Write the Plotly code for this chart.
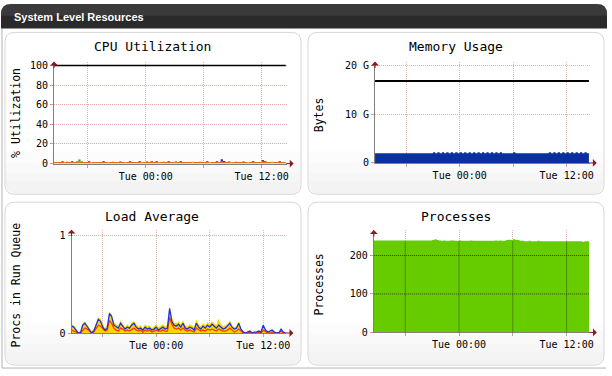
import pandas as pd
import plotly.graph_objects as go

W, H = 612, 376

# ---------------- data ----------------
times = pd.date_range("2012-01-02 14:30", "2012-01-03 14:30", freq="15min")  # 97 samples
x_range = ["2012-01-02 14:30", "2012-01-03 14:36"]
x_tickvals = ["2012-01-02 18:00", "2012-01-03 00:00", "2012-01-03 06:00", "2012-01-03 12:00"]
x_ticktext = ["", "Tue 00:00", "", "Tue 12:00"]

# CPU utilization (%)
cpu_wio = [1.6,1.7,1.6,1.6,1.5,1.6,1.7,1.6,1.6,1.6,
           1.8,1.7,1.6,1.6,1.6,1.5,1.6,1.6,1.7,1.6,
           1.6,1.6,1.5,1.6,1.6,1.7,1.6,1.6,1.6,1.5,
           1.6,1.6,1.7,1.6,1.6,1.6,1.5,1.6,1.6,1.7,
           1.6,1.6,1.6,1.5,1.6,1.6,1.7,1.6,1.6,1.6,
           1.5,1.6,1.6,1.7,1.6,1.6,1.6,1.5,1.6,1.6,
           1.7,1.6,1.6,1.6,1.5,1.6,1.6,1.7,1.6,1.8,
           1.7,1.6,1.6,1.5,1.6,1.6,1.7,1.6,1.6,1.6,
           1.5,1.6,1.6,1.7,1.6,1.6,1.8,1.7,1.6,1.6,
           1.5,1.6,1.6,1.7,1.6,1.6,1.6]
cpu_system = [0,0,0,0,0,0,0,0,0,0,
              0,0,0,0,0.7,0,0,0,0,0,
              0,0,0,0,0,0,0,0,0,0,
              0,0,0,0,0,0,0,0,0,0,
              0.7,0,0,0,0,0,0,0,0,0,
              0,0,0,0,0,0,0,0,0,0,
              0,0,0,0,0,0,0,0,0,0,
              0,0,0,0,0,0,0,0,0,0,
              0,0,0,0,0,0,1.8,0.6,0,0,
              0,0,0,0,0,0,0]
cpu_user = [0,0,0,0.8,0,0,0,0.8,0,0,
            0,0,0,0,0,0,0,0,0,0,
            0.8,0,0,0,0,0,0,0,0,0,
            0,0.8,0,0,0,0.8,0,0,0,0,
            0,0,0.8,0,0,0,0,0.8,0,0,
            0,0,0.8,0,0,0,0,0,0,0,
            0,0,0,0.8,0,0,0,0.8,0,2.6,
            0.9,0,0,0,0,0,0,0,0,0,
            0,0,0.8,0,0,0,0,0,0,0,
            0,0,0,0.8,0,0,0]
cpu_nice = [0,0,0,0,0,0.8,0,0,0,0,
            0,0,0,0,0,0,0,0,0,0,
            0,0,0,0,0.8,0,0,0,0,0,
            0,0,0,0,0,0,0,0,0,0,
            0,0,0,0,0,0.8,0,0,0,0,
            0,0,0,0,0,0,0,0.8,0,0,
            0.8,0,0,0,0,0,0,0,0,0,
            0,0,0,0,0,0.8,0,0,0,0,
            0,0,0,0,0,0,0,0,0,0,
            0.8,0,0,0,0,0,0]
cpu_steal = [0,0,0,0,0,0,0,0,0,0.8,
             2.4,0.8,0,0,0,0,0,0,0,0,
             0,0,0,0,0,0,0,0.8,0,0,
             0,0,0,0,0,0,0,0,0.8,0,
             0,0,0,0,0,0,0,0,0,0,
             0.8,0,0,0,0,0,0,0,0,0,
             0,0,0,0,0,0,0,0,0,0,
             0,0,0.8,0,0,0,0,0,0.8,0,
             0,0,0,0,0,0,0,0,0,0,
             0,0,0,0,0,0,0]
cpu_total = [100, 100]
cpu_yticks = [0, 20, 40, 60, 80, 100]

# Memory (GB)
mem_used_gb = [2.0,2.0,2.0,2.0,2.0,2.0,2.0,2.0,2.0,2.0,
               2.0,2.0,2.0,2.0,2.0,2.0,2.0,2.0,2.0,2.0,
               2.0,2.0,2.0,2.0,2.0,2.0,2.2,2.0,2.2,2.0,
               2.2,2.0,2.2,2.0,2.2,2.0,2.2,2.0,2.2,2.0,
               2.2,2.0,2.2,2.0,2.2,2.0,2.2,2.0,2.2,2.0,
               2.2,2.0,2.2,2.0,2.2,2.0,2.2,2.0,2.0,2.0,
               2.0,2.0,2.2,2.0,2.0,2.0,2.0,2.0,2.0,2.0,
               2.0,2.0,2.0,2.0,2.0,2.0,2.0,2.0,2.2,2.0,
               2.2,2.0,2.2,2.0,2.2,2.0,2.2,2.0,2.2,2.0,
               2.2,2.0,2.2,2.0,2.2,2.0,2.0]
mem_total_gb = [16.8, 16.8]
mem_yticks = [0, 10, 20]
mem_ytext = ["0", "10 G", "20 G"]

# Load average
load_one = [0.09,0.08,0.05,0.01,0.02,0.10,0.12,0.09,0.05,0.02,
            0.04,0.10,0.16,0.15,0.09,0.05,0.08,0.22,0.19,0.11,
            0.09,0.07,0.13,0.10,0.06,0.09,0.07,0.11,0.12,0.09,
            0.07,0.08,0.05,0.09,0.07,0.08,0.05,0.07,0.09,0.06,
            0.08,0.09,0.07,0.08,0.29,0.16,0.11,0.10,0.12,0.09,
            0.13,0.08,0.07,0.09,0.08,0.06,0.14,0.09,0.07,0.10,
            0.08,0.11,0.09,0.12,0.10,0.08,0.15,0.09,0.07,0.08,
            0.09,0.13,0.08,0.06,0.07,0.12,0.05,0.02,0.01,0.01,
            0.02,0.01,0.01,0.01,0.02,0.01,0.07,0.03,0.01,0.01,
            0.02,0.01,0.00,0.00,0.05,0.01,0.00]
load_cpus = [0.03,0.02,0.01,0.00,0.00,0.03,0.05,0.04,0.02,0.00,
             0.01,0.04,0.08,0.07,0.04,0.02,0.03,0.13,0.10,0.05,
             0.03,0.02,0.05,0.04,0.02,0.03,0.02,0.04,0.05,0.03,
             0.02,0.03,0.01,0.03,0.02,0.03,0.01,0.02,0.03,0.02,
             0.02,0.03,0.02,0.02,0.16,0.09,0.05,0.04,0.05,0.03,
             0.05,0.03,0.02,0.03,0.02,0.01,0.05,0.03,0.02,0.03,
             0.02,0.04,0.03,0.04,0.03,0.02,0.04,0.03,0.02,0.02,
             0.03,0.05,0.03,0.01,0.02,0.04,0.02,0.00,0.00,0.00,
             0.01,0.00,0.00,0.00,0.01,0.00,0.03,0.01,0.00,0.00,
             0.01,0.00,0.00,0.00,0.02,0.00,0.00]
load_running = [0.07,0.06,0.03,0.00,0.00,0.08,0.10,0.07,0.03,0.00,
                0.02,0.08,0.14,0.12,0.06,0.03,0.05,0.20,0.17,0.08,
                0.06,0.05,0.10,0.07,0.04,0.06,0.05,0.08,0.10,0.06,
                0.04,0.05,0.03,0.06,0.04,0.05,0.03,0.04,0.06,0.03,
                0.05,0.06,0.04,0.05,0.25,0.12,0.08,0.07,0.09,0.06,
                0.10,0.05,0.04,0.06,0.05,0.03,0.10,0.06,0.04,0.07,
                0.05,0.08,0.06,0.09,0.07,0.05,0.08,0.06,0.04,0.05,
                0.07,0.10,0.06,0.04,0.05,0.10,0.04,0.01,0.00,0.01,
                0.02,0.00,0.01,0.01,0.02,0.01,0.08,0.03,0.01,0.02,
                0.03,0.01,0.00,0.00,0.04,0.01,0.00]
load_yticks = [0, 1]

# Processes
proc_total = [239,239,239,239,239,239,239,239,239,239,
              239,239,239,239,239,239,239,239,239,239,
              239,239,239,239,239,239,240,242,240,239,
              238,239,238,238,239,239,238,238,239,238,
              238,238,238,239,238,238,238,238,238,238,
              238,238,238,238,239,238,239,238,238,240,
              241,240,242,241,240,238,238,237,237,238,
              237,237,237,238,237,237,237,237,237,237,
              237,237,237,237,237,237,237,237,237,237,
              237,237,237,236,237,237,237]
proc_yticks = [0, 100, 200]

titles = ["CPU Utilization", "Memory Usage", "Load Average", "Processes"]
ytitles = ["% Utilization", "Bytes", "Procs in Run Queue", "Processes"]
header_text = "System Level Resources"

# ---------------- layout helpers ----------------
MONO = "DejaVu Sans Mono"
GRID = "#eab0b0"
AXIS = "#808080"
ARROW = "#8b1a1a"


def px(x):
    return x / W


def py(y):
    return 1 - y / H


def rrect(x0, y0, x1, y1, rt, rb):
    return (f"M {px(x0+rt)},{py(y0)} L {px(x1-rt)},{py(y0)} "
            f"Q {px(x1)},{py(y0)} {px(x1)},{py(y0+rt)} "
            f"L {px(x1)},{py(y1-rb)} Q {px(x1)},{py(y1)} {px(x1-rb)},{py(y1)} "
            f"L {px(x0+rb)},{py(y1)} Q {px(x0)},{py(y1)} {px(x0)},{py(y1-rb)} "
            f"L {px(x0)},{py(y0+rt)} Q {px(x0)},{py(y0)} {px(x0+rt)},{py(y0)} Z")


# pixel boxes of the four plot areas: (left, top, right, bottom)
boxes = [(54.4, 61.7, 288.6, 165.7),
         (377.5, 61.7, 593.7, 165.0),
         (72.0, 233.0, 288.3, 338.3),
         (376.3, 233.4, 593.8, 337.7)]
yranges = [[0, 104], [0, 20.81], [0, 1.0604], [0, 266.1]]
panels = [(5, 32, 303, 197), (310, 32, 608, 197), (5, 205, 303, 371), (310, 205, 608, 371)]
title_pos = [(153.5, 46), (459, 46), (153.5, 220), (458.7, 219.5)]
ytitle_pos = [(16, 114.2), (321, 115.5), (16, 289), (321, 289)]

fig = go.Figure()

# ---- CPU ----
for vals, col in [(cpu_wio, "#e0701c"), (cpu_system, "#a02a1a"), (cpu_user, "#3333bb"),
                  (cpu_nice, "#f2d600"), (cpu_steal, "#55aa22")]:
    fig.add_trace(go.Scatter(x=times, y=vals, stackgroup="cpu", mode="lines",
                             line=dict(width=0, shape="hv"), fillcolor=col,
                             xaxis="x", yaxis="y", hoverinfo="skip"))
fig.add_trace(go.Scatter(x=[times[0], times[-1]], y=cpu_total, mode="lines",
                         line=dict(color="black", width=1.3), xaxis="x", yaxis="y"))

# ---- Memory ----
fig.add_trace(go.Scatter(x=times, y=mem_used_gb, mode="lines", fill="tozeroy",
                         line=dict(width=0, shape="hv"), fillcolor="#0a2f9e",
                         xaxis="x2", yaxis="y2"))
fig.add_trace(go.Scatter(x=[times[0], times[-1]], y=mem_total_gb, mode="lines",
                         line=dict(color="black", width=2), xaxis="x2", yaxis="y2"))

# ---- Load ----
fig.add_trace(go.Scatter(x=times, y=load_one, mode="lines", fill="tozeroy",
                         line=dict(width=0), fillcolor="#f5d800", xaxis="x3", yaxis="y3"))
fig.add_trace(go.Scatter(x=times, y=load_cpus, mode="lines",
                         line=dict(color="#ff3d00", width=1.3), xaxis="x3", yaxis="y3"))
fig.add_trace(go.Scatter(x=times, y=load_running, mode="lines",
                         line=dict(color="#1f2fe6", width=1.3), xaxis="x3", yaxis="y3"))

# ---- Processes ----
fig.add_trace(go.Scatter(x=times, y=proc_total, mode="lines", fill="tozeroy",
                         line=dict(width=0, shape="hv"), fillcolor="#66cc00",
                         xaxis="x4", yaxis="y4"))

shapes = []
annotations = []

# page chrome
shapes.append(dict(type="line", xref="paper", yref="paper", x0=px(2), x1=px(2), y0=py(28), y1=py(374),
                   line=dict(color="#b4b4b4", width=1), layer="below"))
shapes.append(dict(type="line", xref="paper", yref="paper", x0=px(2), x1=px(610), y0=py(374), y1=py(374),
                   line=dict(color="#b4b4b4", width=1), layer="below"))
shapes.append(dict(type="path", xref="paper", yref="paper", path=rrect(1, 3, 611, 28, 10, 0),
                   fillcolor="#2a2a2a", line=dict(width=0), layer="below"))
shapes.append(dict(type="path", xref="paper", yref="paper", path=rrect(1, 3, 611, 15, 10, 0),
                   fillcolor="rgba(255,255,255,0.08)", line=dict(width=0), layer="below"))
annotations.append(dict(xref="paper", yref="paper", x=px(12), y=py(16.5), xanchor="left", yanchor="middle",
                        text=f"<b>{header_text}</b>", showarrow=False,
                        font=dict(family="Liberation Sans", size=11, color="white")))

for (x0, y0, x1, y1) in panels:
    shapes.append(dict(type="path", xref="paper", yref="paper", path=rrect(x0, y0, x1, y1, 10, 10),
                       fillcolor="white", line=dict(color="#d6d6d6", width=1), layer="below"))
    for h in (44, 32, 22, 13):
        shapes.append(dict(type="path", xref="paper", yref="paper", path=rrect(x0 + 0.5, y1 - h, x1 - 0.5, y1 - 0.5, 0, 10),
                           fillcolor="rgba(0,0,0,0.013)", line=dict(width=0), layer="below"))

layout_axes = {}
ytickvals = [cpu_yticks, mem_yticks, load_yticks, proc_yticks]
yticktext = [[str(v) for v in cpu_yticks], mem_ytext, [str(v) for v in load_yticks],
             [str(v) for v in proc_yticks]]

for i, (l, t, r, b) in enumerate(boxes):
    s = "" if i == 0 else str(i + 1)
    layout_axes[f"xaxis{s}"] = dict(
        domain=[px(l), px(r)], anchor=f"y{s}", type="date", range=x_range,
        tickmode="array", tickvals=x_tickvals, ticktext=x_ticktext,
        ticks="outside", ticklen=3, tickcolor="#c99", showgrid=True, gridcolor=GRID,
        griddash="1px,1px", gridwidth=1, showline=True, linecolor=AXIS, linewidth=1,
        zeroline=False, tickfont=dict(family=MONO, size=10, color="black"), fixedrange=True)
    layout_axes[f"yaxis{s}"] = dict(
        domain=[py(b), py(t)], anchor=f"x{s}", range=yranges[i],
        tickmode="array", tickvals=ytickvals[i], ticktext=yticktext[i],
        ticks="outside", ticklen=3, tickcolor="#c99", showgrid=True, gridcolor=GRID,
        griddash="1px,1px", gridwidth=1, showline=True, linecolor=AXIS, linewidth=1,
        zeroline=False, tickfont=dict(family=MONO, size=10, color="black"), fixedrange=True)
    wpx = r - l
    # axis arrows
    annotations.append(dict(xref=f"x{s} domain", yref=f"y{s} domain", x=1 + 7 / wpx, y=0,
                            ax=-9, ay=0, showarrow=True, arrowhead=1, arrowsize=1.3, arrowwidth=1,
                            arrowcolor=ARROW, text=""))
    annotations.append(dict(xref=f"x{s} domain", yref=f"y{s} domain", x=0, y=1,
                            ax=0, ay=8, showarrow=True, arrowhead=1, arrowsize=1.3, arrowwidth=1,
                            arrowcolor=ARROW, text=""))
    # titles
    tx, ty = title_pos[i]
    annotations.append(dict(xref="paper", yref="paper", x=px(tx), y=py(ty), xanchor="center",
                            yanchor="middle", text=titles[i], showarrow=False,
                            font=dict(family=MONO, size=13, color="black")))
    yx, yy = ytitle_pos[i]
    annotations.append(dict(xref="paper", yref="paper", x=px(yx), y=py(yy), xanchor="center",
                            yanchor="middle", text=ytitles[i], showarrow=False, textangle=-90,
                            font=dict(family=MONO, size=11.5, color="black")))

# grid drawn over the processes area
for tv in x_tickvals:
    shapes.append(dict(type="line", xref="x4", yref="y4", x0=tv, x1=tv, y0=0, y1=min(proc_total),
                       line=dict(color="rgba(40,50,20,0.85)", width=1, dash="1px,1px"), layer="above"))
for yv in proc_yticks[1:]:
    shapes.append(dict(type="line", xref="x4", yref="y4", x0=times[0], x1=times[-1], y0=yv, y1=yv,
                       line=dict(color="rgba(40,50,20,0.85)", width=1, dash="1px,1px"), layer="above"))

fig.update_layout(width=W, height=H, margin=dict(l=0, r=0, t=0, b=0),
                  paper_bgcolor="white", plot_bgcolor="rgba(0,0,0,0)", showlegend=False,
                  shapes=shapes, annotations=annotations, **layout_axes)

fig.write_html("out.html", config={"displayModeBar": False},
               post_script="document.body.style.margin='0';document.body.style.overflow='hidden';")
